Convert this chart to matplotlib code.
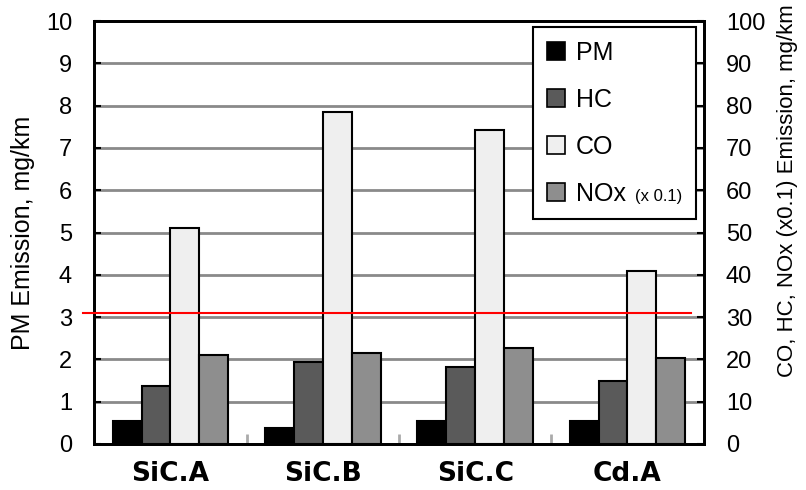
import numpy as np
import matplotlib
matplotlib.use("Agg")
import matplotlib.pyplot as plt
from matplotlib.patches import Patch
from matplotlib.transforms import blended_transform_factory

# data
filters = ["SiC.A", "SiC.B", "SiC.C", "Cd.A"]
pm = [0.55, 0.38, 0.55, 0.55]          # mg/km, left axis
hc = [13.7, 19.3, 18.1, 14.9]          # mg/km, right axis
co = [51.0, 78.6, 74.2, 40.8]          # mg/km, right axis
nox_x01 = [21.0, 21.6, 22.6, 20.4]     # NOx x 0.1, right axis
limit_pm = 3.1                         # red reference line

plt.rcParams['font.family'] = ['Liberation Sans', 'DejaVu Sans']

fig = plt.figure(figsize=(8.06, 4.9), dpi=100)
ax = fig.add_axes([0.117, 0.094, 0.756, 0.863])
ax2 = ax.twinx()

x = np.arange(len(filters))
w = 0.19
ec = "black"
lw = 1.5

ax.bar(x - 1.5 * w, pm, w, color="black", edgecolor=ec, linewidth=lw, zorder=3)
ax2.bar(x - 0.5 * w, hc, w, color="#5a5a5a", edgecolor=ec, linewidth=lw, zorder=3)
ax2.bar(x + 0.5 * w, co, w, color="#efefef", edgecolor=ec, linewidth=lw, zorder=3)
ax2.bar(x + 1.5 * w, nox_x01, w, color="#8e8e8e", edgecolor=ec, linewidth=lw, zorder=3)

ax.set_xlim(-0.5, 3.5)
ax.set_ylim(0, 10)
ax2.set_ylim(0, 100)
ax.set_yticks(range(0, 11))
ax2.set_yticks(range(0, 101, 10))

# gray horizontal grid
for v in range(1, 10):
    ax.axhline(v, color="#8a8a8a", lw=2, zorder=1)

ax.set_xticks(x)
ax.set_xticklabels(filters, fontsize=19, fontweight="bold", family="DejaVu Sans")
ax.set_xticks([0.5, 1.5, 2.5], minor=True)
ax.tick_params(axis="x", which="major", length=0, pad=12)
ax.tick_params(axis="x", which="minor", direction="in", length=7, width=2, color="#aaaaaa")
ax.tick_params(axis="y", direction="in", length=5, width=1.5, labelsize=17, pad=16)
ax2.tick_params(axis="y", direction="in", length=5, width=1.5, labelsize=17, pad=16)

for a in (ax, ax2):
    for s in a.spines.values():
        s.set_linewidth(2)

ax.set_ylabel("PM Emission, mg/km", fontsize=18)
ax.yaxis.set_label_coords(-0.098, 0.5)
ax2.set_ylabel("CO, HC, NOx (x0.1) Emission, mg/km", fontsize=16)
ax2.yaxis.set_label_coords(1.121, 0.6)

# red line at PM limit
tr = blended_transform_factory(ax.transAxes, ax.transData)
ax2.plot([-0.019, 0.98], [limit_pm, limit_pm], color="red", lw=1.5,
         transform=tr, clip_on=False, zorder=10)

handles = [Patch(facecolor="black", edgecolor=ec, lw=1.2),
           Patch(facecolor="#5a5a5a", edgecolor=ec, lw=1.2),
           Patch(facecolor="#efefef", edgecolor=ec, lw=1.2),
           Patch(facecolor="#8e8e8e", edgecolor=ec, lw=1.2)]
pad = "\u00a0" * 8
leg = ax2.legend(handles, ["PM", "HC", "CO", "NOx" + pad], loc="upper right",
                 bbox_to_anchor=(0.987, 0.986), fontsize=18, frameon=True,
                 fancybox=False, edgecolor="black", handlelength=0.72,
                 handleheight=0.72, handletextpad=0.45, labelspacing=0.92,
                 borderpad=0.55, borderaxespad=0)
leg.get_frame().set_linewidth(1.5)
leg.get_frame().set_alpha(1)
leg.set_zorder(20)
ax2.text(0.887, 0.584, "(x 0.1)", transform=ax2.transAxes, fontsize=12,
         va="center", ha="left", zorder=21)

fig.savefig("out.png", dpi=100)
